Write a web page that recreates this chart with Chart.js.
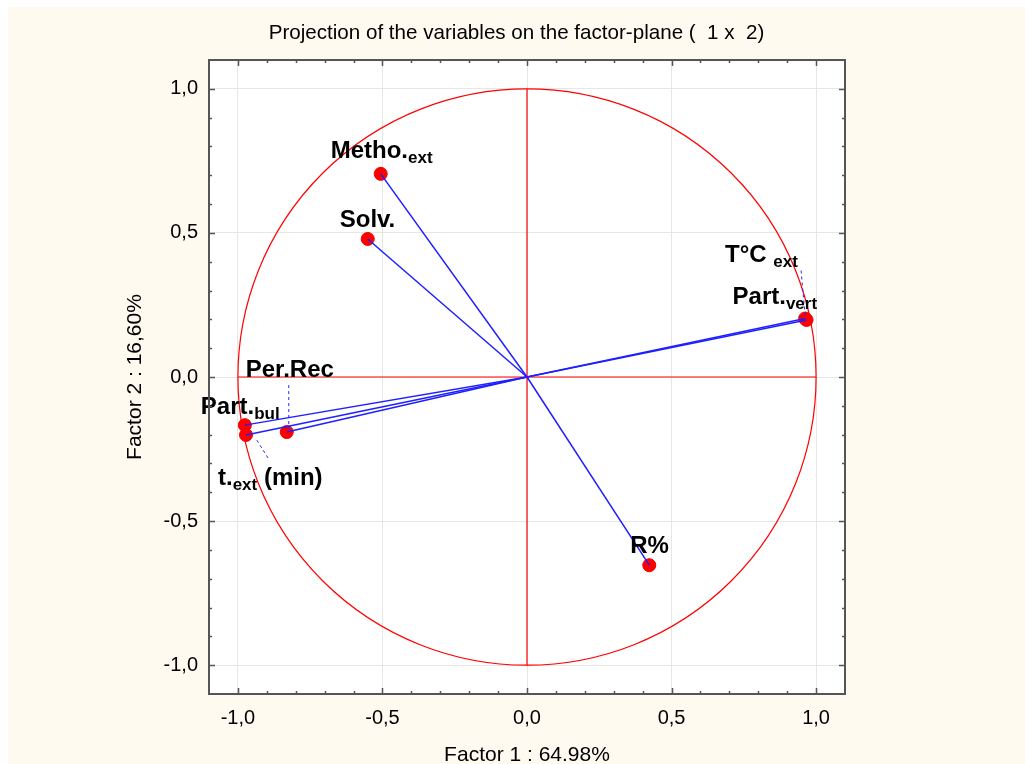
<!DOCTYPE html>
<html>
<head>
<meta charset="utf-8">
<script src="https://cdn.jsdelivr.net/npm/chart.js@4"></script>
<style>
  html, body { margin: 0; padding: 0; background: #fff; }
  #wrap { position: absolute; left: 8px; top: 7px; width: 1017px; height: 757px; background: #fffaf0; overflow: hidden; }
  canvas { display: block; }
</style>
</head>
<body>
<div id="wrap"><canvas id="pca" width="1017" height="757"></canvas></div>
<script>
// variable loadings on factor 1 and factor 2
var variables = ['Metho.ext', 'Solv.', 'T°C ext', 'Part.vert', 'R%', 'Part.bul', 't.ext (min)', 'Per.Rec'];
var factor1   = [-0.506, -0.551, 0.962, 0.967, 0.423, -0.976, -0.972, -0.831];
var factor2   = [ 0.705,  0.479, 0.203, 0.198, -0.653, -0.167, -0.201, -0.191];
var xTicks    = [-1, -0.5, 0, 0.5, 1];
var yTicks    = [-1, -0.5, 0, 0.5, 1];

// how each label is written: main text, subscript, trailing text
var labelParts = [
    ['Metho.', 'ext', ''],
    ['Solv.', '', ''],
    ['T°C ', 'ext', ''],
    ['Part.', 'vert', ''],
    ['R%', '', ''],
    ['Part.', 'bul', ''],
    ['t.', 'ext', ' (min)'],
    ['Per.Rec', '', '']
];
// label placement relative to its point, in pixels, plus optional dashed leader
var labelLayout = [
    { dx: -50, dy: -16 },
    { dx: -28, dy: -12 },
    { dx: -80, dy: -57, lead: [-4, -48, 0, -3] },
    { dx: -74, dy: -16 },
    { dx: -19, dy: -12 },
    { dx: -44, dy: -11 },
    { dx: -28, dy: 50, lead: [22, 23, 10, 4] },
    { dx: -41, dy: -55, lead: [2, -47, 2, -3] }
];

var FONT = '"Liberation Sans", Arial, sans-serif';

function fmt(v) { return v.toFixed(1).replace('.', ','); }

var pcaPlugin = {
    id: 'pca',
    beforeDraw: function (chart) {
        var a = chart.chartArea, ctx = chart.ctx;
        ctx.save();
        ctx.fillStyle = '#ffffff';
        ctx.fillRect(a.left, a.top, a.right - a.left, a.bottom - a.top);
        ctx.restore();
    },
    beforeDatasetsDraw: function (chart) {
        var ctx = chart.ctx, x = chart.scales.x, y = chart.scales.y;
        var cx = x.getPixelForValue(0), cy = y.getPixelForValue(0);
        var rx = x.getPixelForValue(1) - cx, ry = cy - y.getPixelForValue(1);
        ctx.save();
        ctx.strokeStyle = '#ff0000';
        ctx.lineWidth = 1.2;
        ctx.beginPath();
        ctx.ellipse(cx, cy, rx, ry, 0, 0, Math.PI * 2);
        ctx.stroke();
        ctx.beginPath();
        ctx.moveTo(x.getPixelForValue(-1), cy);
        ctx.lineTo(x.getPixelForValue(1), cy);
        ctx.moveTo(cx, y.getPixelForValue(1));
        ctx.lineTo(cx, y.getPixelForValue(-1));
        ctx.stroke();
        ctx.restore();
    },
    afterDatasetsDraw: function (chart) {
        var ctx = chart.ctx, x = chart.scales.x, y = chart.scales.y, a = chart.chartArea;
        ctx.save();
        // dashed leaders
        ctx.strokeStyle = '#2626ff';
        ctx.lineWidth = 1;
        ctx.setLineDash([3, 3]);
        labelLayout.forEach(function (l, i) {
            if (!l.lead) return;
            var px = x.getPixelForValue(factor1[i]), py = y.getPixelForValue(factor2[i]);
            ctx.beginPath();
            ctx.moveTo(px + l.lead[0], py + l.lead[1]);
            ctx.lineTo(px + l.lead[2], py + l.lead[3]);
            ctx.stroke();
        });
        ctx.setLineDash([]);
        // labels
        ctx.fillStyle = '#000';
        ctx.textBaseline = 'alphabetic';
        ctx.textAlign = 'left';
        labelParts.forEach(function (p, i) {
            var l = labelLayout[i];
            var tx = x.getPixelForValue(factor1[i]) + l.dx;
            var ty = y.getPixelForValue(factor2[i]) + l.dy;
            ctx.font = 'bold 24px ' + FONT;
            ctx.fillText(p[0], tx, ty);
            tx += ctx.measureText(p[0]).width;
            if (p[1]) {
                ctx.font = 'bold 17px ' + FONT;
                ctx.fillText(p[1], tx, ty + 5);
                tx += ctx.measureText(p[1]).width;
            }
            if (p[2]) {
                ctx.font = 'bold 24px ' + FONT;
                ctx.fillText(p[2], tx, ty);
            }
        });
        // frame and inward ticks on all four sides
        ctx.strokeStyle = '#555';
        ctx.lineWidth = 2;
        ctx.strokeRect(a.left, a.top, a.right - a.left, a.bottom - a.top);
        ctx.lineWidth = 1.5;
        ctx.beginPath();
        for (var k = -10; k <= 10; k++) {
            var v = k / 10, len = (k % 5 === 0) ? 6 : 3;
            var px = Math.round(x.getPixelForValue(v)) + 0.5;
            ctx.moveTo(px, a.bottom); ctx.lineTo(px, a.bottom - len);
            ctx.moveTo(px, a.top); ctx.lineTo(px, a.top + len);
            var py = Math.round(y.getPixelForValue(v)) + 0.5;
            ctx.moveTo(a.left, py); ctx.lineTo(a.left + len, py);
            ctx.moveTo(a.right, py); ctx.lineTo(a.right - len, py);
        }
        ctx.stroke();
        ctx.restore();
    }
};

var pointData = factor1.map(function (v, i) { return { x: v, y: factor2[i] }; });
var datasets = [{
    type: 'scatter',
    label: 'points',
    data: pointData,
    pointRadius: 6.5,
    pointBackgroundColor: '#ff0000',
    pointBorderColor: '#ee0000',
    pointBorderWidth: 1,
    order: 2
}];
variables.forEach(function (name, i) {
    datasets.push({
        type: 'line',
        label: name,
        data: [{ x: 0, y: 0 }, { x: factor1[i], y: factor2[i] }],
        borderColor: '#1f1fff',
        borderWidth: 1.5,
        pointRadius: 0,
        fill: false,
        order: 1
    });
});

function setTicks(list) {
    return function (scale) { scale.ticks = list.map(function (v) { return { value: v }; }); };
}

new Chart(document.getElementById('pca').getContext('2d'), {
    type: 'scatter',
    data: { datasets: datasets },
    plugins: [pcaPlugin],
    options: {
        responsive: false,
        animation: false,
        layout: { padding: 0 },
        plugins: {
            legend: { display: false },
            tooltip: { enabled: false },
            title: {
                display: true,
                text: 'Projection of the variables on the factor-plane (  1 x  2)',
                color: '#000',
                font: { family: FONT, size: 20.6, weight: 'normal', lineHeight: 1.2 },
                padding: { top: 13.6, bottom: 14.7 }
            }
        },
        scales: {
            x: {
                type: 'linear', position: 'bottom', min: -1.1, max: 1.1,
                afterBuildTicks: setTicks(xTicks),
                afterFit: function (s) { s.height = 70; },
                grid: { color: '#e6e6e6', drawTicks: false },
                border: { display: false },
                ticks: { color: '#000', padding: 12, font: { family: FONT, size: 20 }, callback: fmt },
                title: { display: true, text: 'Factor 1 : 64.98%', color: '#000', padding: 0,
                         font: { family: FONT, size: 21, lineHeight: 0.8 } }
            },
            y: {
                type: 'linear', position: 'left', min: -1.1, max: 1.1,
                afterBuildTicks: setTicks(yTicks),
                afterFit: function (s) { s.width = 201; },
                grid: { color: '#e6e6e6', drawTicks: false },
                border: { display: false },
                ticks: { color: '#000', padding: 11, font: { family: FONT, size: 20 }, callback: fmt },
                title: { display: true, text: 'Factor 2 : 16,60%', color: '#000', padding: { top: 114.4, bottom: 0 },
                         font: { family: FONT, size: 21, lineHeight: 1.2 } }
            },
            y2: {
                type: 'linear', position: 'right', min: -1.1, max: 1.1,
                afterFit: function (s) { s.width = 180; },
                grid: { display: false, drawOnChartArea: false },
                border: { display: false },
                ticks: { display: false }
            }
        }
    }
});
</script>
</body>
</html>
